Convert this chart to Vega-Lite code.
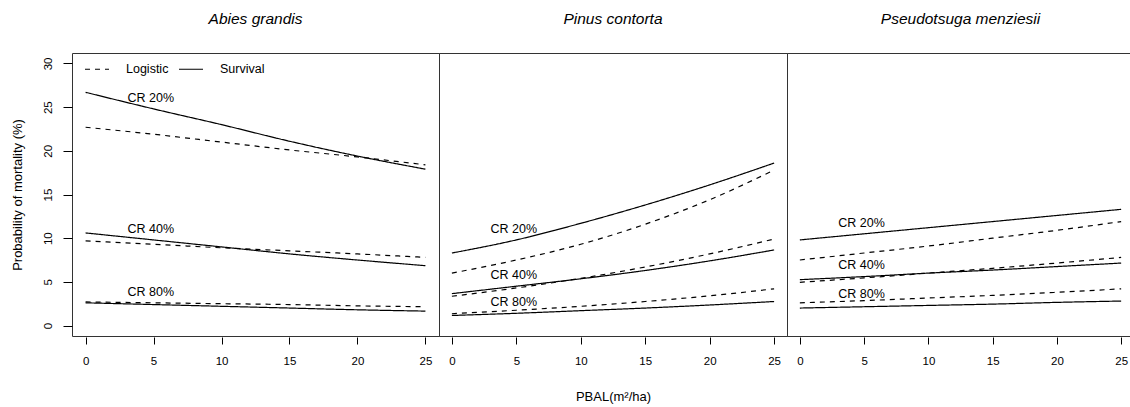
{
  "$schema": "https://vega.github.io/schema/vega-lite/v6.json",
  "background": "white",
  "padding": {"left": 10, "top": 11, "right": 0, "bottom": 0},
  "spacing": 0,
  "bounds": "flush",
  "datasets": {
    "curves": [
      {"sp": "Abies grandis", "model": "Survival", "cr": "20", "x": 0, "y": 26.7},
      {"sp": "Abies grandis", "model": "Survival", "cr": "20", "x": 5, "y": 24.8},
      {"sp": "Abies grandis", "model": "Survival", "cr": "20", "x": 10, "y": 23.0},
      {"sp": "Abies grandis", "model": "Survival", "cr": "20", "x": 15, "y": 21.1},
      {"sp": "Abies grandis", "model": "Survival", "cr": "20", "x": 20, "y": 19.4},
      {"sp": "Abies grandis", "model": "Survival", "cr": "20", "x": 25, "y": 17.9},
      {"sp": "Abies grandis", "model": "Logistic", "cr": "20", "x": 0, "y": 22.7},
      {"sp": "Abies grandis", "model": "Logistic", "cr": "20", "x": 5, "y": 21.9},
      {"sp": "Abies grandis", "model": "Logistic", "cr": "20", "x": 10, "y": 21.0},
      {"sp": "Abies grandis", "model": "Logistic", "cr": "20", "x": 15, "y": 20.1},
      {"sp": "Abies grandis", "model": "Logistic", "cr": "20", "x": 20, "y": 19.3},
      {"sp": "Abies grandis", "model": "Logistic", "cr": "20", "x": 25, "y": 18.4},
      {"sp": "Abies grandis", "model": "Survival", "cr": "40", "x": 0, "y": 10.6},
      {"sp": "Abies grandis", "model": "Survival", "cr": "40", "x": 5, "y": 9.8},
      {"sp": "Abies grandis", "model": "Survival", "cr": "40", "x": 10, "y": 9.0},
      {"sp": "Abies grandis", "model": "Survival", "cr": "40", "x": 15, "y": 8.2},
      {"sp": "Abies grandis", "model": "Survival", "cr": "40", "x": 20, "y": 7.5},
      {"sp": "Abies grandis", "model": "Survival", "cr": "40", "x": 25, "y": 6.85},
      {"sp": "Abies grandis", "model": "Logistic", "cr": "40", "x": 0, "y": 9.7},
      {"sp": "Abies grandis", "model": "Logistic", "cr": "40", "x": 5, "y": 9.3},
      {"sp": "Abies grandis", "model": "Logistic", "cr": "40", "x": 10, "y": 8.9},
      {"sp": "Abies grandis", "model": "Logistic", "cr": "40", "x": 15, "y": 8.55},
      {"sp": "Abies grandis", "model": "Logistic", "cr": "40", "x": 20, "y": 8.2},
      {"sp": "Abies grandis", "model": "Logistic", "cr": "40", "x": 25, "y": 7.8},
      {"sp": "Abies grandis", "model": "Survival", "cr": "80", "x": 0, "y": 2.6},
      {"sp": "Abies grandis", "model": "Survival", "cr": "80", "x": 5, "y": 2.4},
      {"sp": "Abies grandis", "model": "Survival", "cr": "80", "x": 10, "y": 2.2},
      {"sp": "Abies grandis", "model": "Survival", "cr": "80", "x": 15, "y": 2.0},
      {"sp": "Abies grandis", "model": "Survival", "cr": "80", "x": 20, "y": 1.8},
      {"sp": "Abies grandis", "model": "Survival", "cr": "80", "x": 25, "y": 1.65},
      {"sp": "Abies grandis", "model": "Logistic", "cr": "80", "x": 0, "y": 2.7},
      {"sp": "Abies grandis", "model": "Logistic", "cr": "80", "x": 5, "y": 2.6},
      {"sp": "Abies grandis", "model": "Logistic", "cr": "80", "x": 10, "y": 2.5},
      {"sp": "Abies grandis", "model": "Logistic", "cr": "80", "x": 15, "y": 2.4},
      {"sp": "Abies grandis", "model": "Logistic", "cr": "80", "x": 20, "y": 2.25},
      {"sp": "Abies grandis", "model": "Logistic", "cr": "80", "x": 25, "y": 2.15},

      {"sp": "Pinus contorta", "model": "Survival", "cr": "20", "x": 0, "y": 8.3},
      {"sp": "Pinus contorta", "model": "Survival", "cr": "20", "x": 5, "y": 9.8},
      {"sp": "Pinus contorta", "model": "Survival", "cr": "20", "x": 10, "y": 11.7},
      {"sp": "Pinus contorta", "model": "Survival", "cr": "20", "x": 15, "y": 13.8},
      {"sp": "Pinus contorta", "model": "Survival", "cr": "20", "x": 20, "y": 16.1},
      {"sp": "Pinus contorta", "model": "Survival", "cr": "20", "x": 25, "y": 18.6},
      {"sp": "Pinus contorta", "model": "Logistic", "cr": "20", "x": 0, "y": 6.0},
      {"sp": "Pinus contorta", "model": "Logistic", "cr": "20", "x": 5, "y": 7.5},
      {"sp": "Pinus contorta", "model": "Logistic", "cr": "20", "x": 10, "y": 9.3},
      {"sp": "Pinus contorta", "model": "Logistic", "cr": "20", "x": 15, "y": 11.6},
      {"sp": "Pinus contorta", "model": "Logistic", "cr": "20", "x": 20, "y": 14.4},
      {"sp": "Pinus contorta", "model": "Logistic", "cr": "20", "x": 25, "y": 17.8},
      {"sp": "Pinus contorta", "model": "Survival", "cr": "40", "x": 0, "y": 3.65},
      {"sp": "Pinus contorta", "model": "Survival", "cr": "40", "x": 5, "y": 4.5},
      {"sp": "Pinus contorta", "model": "Survival", "cr": "40", "x": 10, "y": 5.35},
      {"sp": "Pinus contorta", "model": "Survival", "cr": "40", "x": 15, "y": 6.3},
      {"sp": "Pinus contorta", "model": "Survival", "cr": "40", "x": 20, "y": 7.4},
      {"sp": "Pinus contorta", "model": "Survival", "cr": "40", "x": 25, "y": 8.65},
      {"sp": "Pinus contorta", "model": "Logistic", "cr": "40", "x": 0, "y": 3.35},
      {"sp": "Pinus contorta", "model": "Logistic", "cr": "40", "x": 5, "y": 4.3},
      {"sp": "Pinus contorta", "model": "Logistic", "cr": "40", "x": 10, "y": 5.4},
      {"sp": "Pinus contorta", "model": "Logistic", "cr": "40", "x": 15, "y": 6.7},
      {"sp": "Pinus contorta", "model": "Logistic", "cr": "40", "x": 20, "y": 8.2},
      {"sp": "Pinus contorta", "model": "Logistic", "cr": "40", "x": 25, "y": 9.9},
      {"sp": "Pinus contorta", "model": "Survival", "cr": "80", "x": 0, "y": 1.15},
      {"sp": "Pinus contorta", "model": "Survival", "cr": "80", "x": 5, "y": 1.4},
      {"sp": "Pinus contorta", "model": "Survival", "cr": "80", "x": 10, "y": 1.7},
      {"sp": "Pinus contorta", "model": "Survival", "cr": "80", "x": 15, "y": 2.0},
      {"sp": "Pinus contorta", "model": "Survival", "cr": "80", "x": 20, "y": 2.35},
      {"sp": "Pinus contorta", "model": "Survival", "cr": "80", "x": 25, "y": 2.75},
      {"sp": "Pinus contorta", "model": "Logistic", "cr": "80", "x": 0, "y": 1.35},
      {"sp": "Pinus contorta", "model": "Logistic", "cr": "80", "x": 5, "y": 1.75},
      {"sp": "Pinus contorta", "model": "Logistic", "cr": "80", "x": 10, "y": 2.2},
      {"sp": "Pinus contorta", "model": "Logistic", "cr": "80", "x": 15, "y": 2.75},
      {"sp": "Pinus contorta", "model": "Logistic", "cr": "80", "x": 20, "y": 3.4},
      {"sp": "Pinus contorta", "model": "Logistic", "cr": "80", "x": 25, "y": 4.2},

      {"sp": "Pseudotsuga menziesii", "model": "Survival", "cr": "20", "x": 0, "y": 9.8},
      {"sp": "Pseudotsuga menziesii", "model": "Survival", "cr": "20", "x": 5, "y": 10.5},
      {"sp": "Pseudotsuga menziesii", "model": "Survival", "cr": "20", "x": 10, "y": 11.2},
      {"sp": "Pseudotsuga menziesii", "model": "Survival", "cr": "20", "x": 15, "y": 11.9},
      {"sp": "Pseudotsuga menziesii", "model": "Survival", "cr": "20", "x": 20, "y": 12.6},
      {"sp": "Pseudotsuga menziesii", "model": "Survival", "cr": "20", "x": 25, "y": 13.3},
      {"sp": "Pseudotsuga menziesii", "model": "Logistic", "cr": "20", "x": 0, "y": 7.5},
      {"sp": "Pseudotsuga menziesii", "model": "Logistic", "cr": "20", "x": 5, "y": 8.3},
      {"sp": "Pseudotsuga menziesii", "model": "Logistic", "cr": "20", "x": 10, "y": 9.1},
      {"sp": "Pseudotsuga menziesii", "model": "Logistic", "cr": "20", "x": 15, "y": 10.0},
      {"sp": "Pseudotsuga menziesii", "model": "Logistic", "cr": "20", "x": 20, "y": 10.9},
      {"sp": "Pseudotsuga menziesii", "model": "Logistic", "cr": "20", "x": 25, "y": 11.9},
      {"sp": "Pseudotsuga menziesii", "model": "Survival", "cr": "40", "x": 0, "y": 5.25},
      {"sp": "Pseudotsuga menziesii", "model": "Survival", "cr": "40", "x": 5, "y": 5.6},
      {"sp": "Pseudotsuga menziesii", "model": "Survival", "cr": "40", "x": 10, "y": 6.0},
      {"sp": "Pseudotsuga menziesii", "model": "Survival", "cr": "40", "x": 15, "y": 6.35},
      {"sp": "Pseudotsuga menziesii", "model": "Survival", "cr": "40", "x": 20, "y": 6.75},
      {"sp": "Pseudotsuga menziesii", "model": "Survival", "cr": "40", "x": 25, "y": 7.15},
      {"sp": "Pseudotsuga menziesii", "model": "Logistic", "cr": "40", "x": 0, "y": 4.95},
      {"sp": "Pseudotsuga menziesii", "model": "Logistic", "cr": "40", "x": 5, "y": 5.45},
      {"sp": "Pseudotsuga menziesii", "model": "Logistic", "cr": "40", "x": 10, "y": 6.0},
      {"sp": "Pseudotsuga menziesii", "model": "Logistic", "cr": "40", "x": 15, "y": 6.55},
      {"sp": "Pseudotsuga menziesii", "model": "Logistic", "cr": "40", "x": 20, "y": 7.15},
      {"sp": "Pseudotsuga menziesii", "model": "Logistic", "cr": "40", "x": 25, "y": 7.8},
      {"sp": "Pseudotsuga menziesii", "model": "Survival", "cr": "80", "x": 0, "y": 2.0},
      {"sp": "Pseudotsuga menziesii", "model": "Survival", "cr": "80", "x": 5, "y": 2.15},
      {"sp": "Pseudotsuga menziesii", "model": "Survival", "cr": "80", "x": 10, "y": 2.3},
      {"sp": "Pseudotsuga menziesii", "model": "Survival", "cr": "80", "x": 15, "y": 2.45},
      {"sp": "Pseudotsuga menziesii", "model": "Survival", "cr": "80", "x": 20, "y": 2.65},
      {"sp": "Pseudotsuga menziesii", "model": "Survival", "cr": "80", "x": 25, "y": 2.8},
      {"sp": "Pseudotsuga menziesii", "model": "Logistic", "cr": "80", "x": 0, "y": 2.6},
      {"sp": "Pseudotsuga menziesii", "model": "Logistic", "cr": "80", "x": 5, "y": 2.85},
      {"sp": "Pseudotsuga menziesii", "model": "Logistic", "cr": "80", "x": 10, "y": 3.15},
      {"sp": "Pseudotsuga menziesii", "model": "Logistic", "cr": "80", "x": 15, "y": 3.45},
      {"sp": "Pseudotsuga menziesii", "model": "Logistic", "cr": "80", "x": 20, "y": 3.8},
      {"sp": "Pseudotsuga menziesii", "model": "Logistic", "cr": "80", "x": 25, "y": 4.2}
    ],
    "labels": [
      {"sp": "Abies grandis", "label": "CR 20%", "x": 4.8, "y": 26.1},
      {"sp": "Abies grandis", "label": "CR 40%", "x": 4.8, "y": 11.1},
      {"sp": "Abies grandis", "label": "CR 80%", "x": 4.8, "y": 3.8},
      {"sp": "Pinus contorta", "label": "CR 20%", "x": 4.8, "y": 11.1},
      {"sp": "Pinus contorta", "label": "CR 40%", "x": 4.8, "y": 5.8},
      {"sp": "Pinus contorta", "label": "CR 80%", "x": 4.8, "y": 2.7},
      {"sp": "Pseudotsuga menziesii", "label": "CR 20%", "x": 4.8, "y": 11.7},
      {"sp": "Pseudotsuga menziesii", "label": "CR 40%", "x": 4.8, "y": 6.9},
      {"sp": "Pseudotsuga menziesii", "label": "CR 80%", "x": 4.8, "y": 3.65}
    ]
  },
  "resolve": {"legend": {"strokeDash": "independent"}},
  "hconcat": [
    {
      "width": 367, "height": 283,
      "title": {"text": "Abies grandis"},
      "layer": [
        {
          "data": {"name": "curves"},
          "transform": [{"filter": "datum.sp === 'Abies grandis'"}],
          "mark": {"type": "line", "color": "black", "strokeWidth": 1.2, "interpolate": "monotone"},
          "encoding": {
            "x": {"field": "x", "type": "quantitative", "scale": {"domain": [-1, 26], "nice": false, "zero": false},
                  "axis": {"values": [0, 5, 10, 15, 20, 25], "title": null}},
            "y": {"field": "y", "type": "quantitative", "scale": {"domain": [-1.2, 31.2], "nice": false, "zero": false},
                  "axis": {"values": [0, 5, 10, 15, 20, 25, 30], "title": "Probability of mortality (%)", "labelAngle": -90, "labelPadding": 10, "tickSize": 9, "titlePadding": 18}},
            "strokeDash": {"field": "model", "type": "nominal",
                           "scale": {"domain": ["Logistic", "Survival"], "range": [[5, 5], [1, 0]]},
                           "legend": {"orient": "none", "legendX": 12, "legendY": 3, "direction": "horizontal", "title": null,
                                      "symbolType": "stroke", "symbolSize": 576, "symbolStrokeWidth": 1.2, "symbolStrokeColor": "black",
                                      "labelFontSize": 12.5, "labelFont": "Liberation Sans", "labelColor": "black", "labelOffset": 16, "columnPadding": 7}},
            "detail": {"field": "cr"}
          }
        },
        {
          "data": {"name": "labels"},
          "transform": [{"filter": "datum.sp === 'Abies grandis'"}],
          "mark": {"type": "text", "fontSize": 12.5, "color": "black", "align": "center", "baseline": "middle"},
          "encoding": {
            "x": {"field": "x", "type": "quantitative"},
            "y": {"field": "y", "type": "quantitative"},
            "text": {"field": "label"}
          }
        }
      ]
    },
    {
      "width": 348, "height": 283,
      "title": {"text": "Pinus contorta"},
      "layer": [
        {
          "data": {"name": "curves"},
          "transform": [{"filter": "datum.sp === 'Pinus contorta'"}],
          "mark": {"type": "line", "color": "black", "strokeWidth": 1.2, "interpolate": "monotone"},
          "encoding": {
            "x": {"field": "x", "type": "quantitative", "scale": {"domain": [-1, 26], "nice": false, "zero": false},
                  "axis": {"values": [0, 5, 10, 15, 20, 25], "title": "PBAL(m²/ha)"}},
            "y": {"field": "y", "type": "quantitative", "scale": {"domain": [-1.2, 31.2], "nice": false, "zero": false}, "axis": null},
            "strokeDash": {"field": "model", "type": "nominal",
                           "scale": {"domain": ["Logistic", "Survival"], "range": [[5, 5], [1, 0]]}, "legend": null},
            "detail": {"field": "cr"}
          }
        },
        {
          "data": {"name": "labels"},
          "transform": [{"filter": "datum.sp === 'Pinus contorta'"}],
          "mark": {"type": "text", "fontSize": 12.5, "color": "black", "align": "center", "baseline": "middle"},
          "encoding": {
            "x": {"field": "x", "type": "quantitative"},
            "y": {"field": "y", "type": "quantitative"},
            "text": {"field": "label"}
          }
        }
      ]
    },
    {
      "width": 347, "height": 283,
      "title": {"text": "Pseudotsuga menziesii"},
      "layer": [
        {
          "data": {"name": "curves"},
          "transform": [{"filter": "datum.sp === 'Pseudotsuga menziesii'"}],
          "mark": {"type": "line", "color": "black", "strokeWidth": 1.2, "interpolate": "monotone"},
          "encoding": {
            "x": {"field": "x", "type": "quantitative", "scale": {"domain": [-1, 26], "nice": false, "zero": false},
                  "axis": {"values": [0, 5, 10, 15, 20, 25], "title": null}},
            "y": {"field": "y", "type": "quantitative", "scale": {"domain": [-1.2, 31.2], "nice": false, "zero": false}, "axis": null},
            "strokeDash": {"field": "model", "type": "nominal",
                           "scale": {"domain": ["Logistic", "Survival"], "range": [[5, 5], [1, 0]]}, "legend": null},
            "detail": {"field": "cr"}
          }
        },
        {
          "data": {"name": "labels"},
          "transform": [{"filter": "datum.sp === 'Pseudotsuga menziesii'"}],
          "mark": {"type": "text", "fontSize": 12.5, "color": "black", "align": "center", "baseline": "middle"},
          "encoding": {
            "x": {"field": "x", "type": "quantitative"},
            "y": {"field": "y", "type": "quantitative"},
            "text": {"field": "label"}
          }
        }
      ]
    }
  ],
  "config": {
    "font": "Liberation Sans",
    "view": {"stroke": "#333", "strokeWidth": 1},
    "title": {"fontSize": 15.5, "fontStyle": "italic", "fontWeight": "normal", "color": "black", "anchor": "middle", "offset": 26},
    "axis": {
      "grid": false, "domain": false, "tickColor": "black", "tickWidth": 1,
      "labelFontSize": 11.5, "labelColor": "black", "labelFont": "Liberation Sans",
      "titleFontSize": 13, "titleFontWeight": "normal", "titleColor": "black", "titleFont": "Liberation Sans"
    },
    "axisX": {"tickSize": 7, "offset": 1, "labelPadding": 11, "titlePadding": 24, "labelFlush": false}
  }
}
